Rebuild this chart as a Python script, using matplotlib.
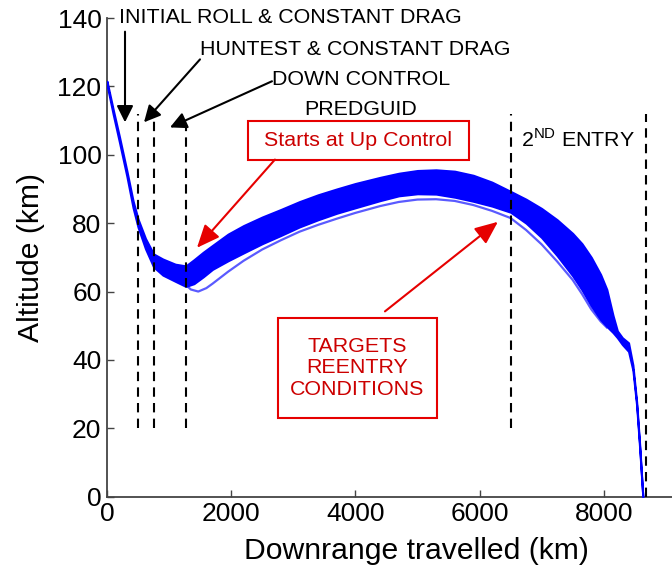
import matplotlib
matplotlib.use('Agg')
import matplotlib.pyplot as plt
from matplotlib.patches import Rectangle

# band of trajectories (upper / lower envelope)
x_band = [0, 100, 200, 320, 420, 500, 620, 750, 900, 1100, 1270, 1400, 1550, 1700,
          1950, 2200, 2500, 2800, 3100, 3400, 3700, 4000, 4400, 4700, 5000, 5300,
          5600, 5900, 6200, 6500, 6750, 7000, 7250, 7500, 7650, 7800, 7950, 8050,
          8150, 8220, 8300, 8400, 8470, 8530, 8580, 8630]
alt_upper = [121.5, 113.2, 105.3, 95.3, 86.5, 81.2, 75.5, 71.0, 69.5, 68.0, 67.5,
             69.3, 71.5, 73.5, 76.8, 79.3, 81.8, 84.0, 86.3, 88.3, 90.0, 91.6, 93.4,
             94.6, 95.4, 95.6, 95.2, 94.0, 92.0, 89.3, 87.0, 84.3, 81.0, 77.0, 74.0,
             70.0, 65.0, 60.6, 53.0, 48.5, 46.5, 45.0, 38.5, 27.8, 15.0, 0.0]
alt_lower = [120.5, 111.8, 103.7, 93.7, 84.5, 78.8, 72.5, 67.2, 64.8, 63.0, 61.5,
             62.3, 64.3, 66.5, 69.0, 71.3, 74.0, 76.4, 78.9, 81.0, 82.9, 84.5, 86.6,
             88.0, 88.6, 88.5, 87.6, 86.4, 85.0, 83.2, 80.0, 75.8, 70.5, 64.6, 60.5,
             55.8, 51.8, 49.8, 48.0, 46.5, 44.5, 42.5, 37.0, 26.8, 14.0, 0.0]

# single trajectory that drops below the band
x_out = [1270, 1350, 1470, 1600, 1700, 1950, 2200, 2500, 2800, 3100, 3400, 3700,
         4000, 4400, 4700, 5000, 5300, 5600, 5900, 6200, 6500, 6750, 7000, 7250,
         7500, 7650, 7800, 7950, 8050]
alt_out = [62.0, 60.6, 60.0, 61.0, 62.3, 65.8, 69.0, 72.3, 75.0, 77.5, 79.5, 81.3,
           83.0, 85.0, 86.2, 86.9, 87.0, 86.5, 85.3, 83.6, 81.5, 78.0, 73.8, 68.8,
           63.4, 59.3, 54.8, 51.3, 49.5]

# phase boundaries (x, bottom, top)
phase_x = [500, 750, 1270, 6500, 8680]
phase_bottom = [20, 20, 20, 20, 0]
phase_top = [112, 111, 109, 112, 112]

xticks = [0, 2000, 4000, 6000, 8000]
yticks = [0, 20, 40, 60, 80, 100, 120, 140]

BLUE = '#0000ff'
RED_TXT = '#cc0000'
RED = '#e60000'


def main():
    plt.rcParams['font.family'] = ['Liberation Sans', 'DejaVu Sans']
    plt.rcParams['mathtext.fontset'] = 'custom'
    plt.rcParams['mathtext.rm'] = 'Liberation Sans'

    fig = plt.figure(figsize=(6.72, 5.67), dpi=100)
    ax = fig.add_axes([107 / 672, 70.3 / 567, 565 / 672, 478.7 / 567])

    ax.fill_between(x_band, alt_lower, alt_upper, color=BLUE, lw=1.5, zorder=3)
    ax.plot(x_out, alt_out, color='#5a5aff', lw=1.6, zorder=2)

    for x, b, t in zip(phase_x, phase_bottom, phase_top):
        ax.plot([x, x], [b, t], color='k', lw=1.5, ls=(0, (4.5, 3)), zorder=4)

    ax.set_xlim(0, 9100)
    ax.set_ylim(0, 140)
    ax.set_xticks(xticks)
    ax.set_yticks(yticks)
    ax.tick_params(direction='in', length=5, width=1, labelsize=19, pad=4,
                   color='#444444')
    for s in ['top', 'right']:
        ax.spines[s].set_visible(False)
    for s in ['left', 'bottom']:
        ax.spines[s].set_color('#444444')
        ax.spines[s].set_linewidth(1.3)
    ax.set_xlabel('Downrange travelled (km)', fontsize=21.7, labelpad=8)
    ax.xaxis.label.set_x(0.547)
    ax.set_ylabel('Altitude (km)', fontsize=21.7, labelpad=9)

    # phase labels and arrows
    fs = 15.4
    ax.text(200, 140.2, 'INITIAL ROLL & CONSTANT DRAG', fontsize=fs, va='center',
            ha='left', clip_on=False)
    ax.text(1500, 130.8, 'HUNTEST & CONSTANT DRAG', fontsize=fs, va='center', ha='left')
    ax.text(4090, 122.0, 'DOWN CONTROL', fontsize=fs, va='center', ha='center')
    ax.text(4090, 113.3, 'PREDGUID', fontsize=fs, va='center', ha='center')
    ax.text(6667, 104.5, r'2$^{\mathrm{ND}}$ ENTRY', fontsize=fs, va='center', ha='left')

    black_arrow = dict(arrowstyle='-|>,head_length=0.5,head_width=0.25', color='k',
                       lw=1.5, mutation_scale=20, shrinkA=0, shrinkB=0)
    ax.annotate('', xy=(290, 109.5), xytext=(290, 136), arrowprops=black_arrow)
    ax.annotate('', xy=(596, 109.5), xytext=(1498, 127.9), arrowprops=black_arrow)
    ax.annotate('', xy=(1014, 108), xytext=(2657, 121.5), arrowprops=black_arrow)

    # red callouts
    ax.add_patch(Rectangle((2270, 98.6), 3557, 11.4, fill=False, ec=RED, lw=1.5,
                           zorder=5))
    ax.text(4048, 104.3, 'Starts at Up Control', fontsize=fs, color=RED_TXT,
            ha='center', va='center', zorder=6)
    ax.add_patch(Rectangle((2753, 23.0), 2559, 29.3, fill=False, ec=RED, lw=1.5,
                           zorder=5))
    ax.text(4032, 37.7, 'TARGETS\nREENTRY\nCONDITIONS', fontsize=fs, color=RED_TXT,
            ha='center', va='center', linespacing=1.15, zorder=6)

    red_arrow = dict(arrowstyle='-|>,head_length=0.7,head_width=0.3', color=RED,
                     lw=1.5, mutation_scale=20, shrinkA=0, shrinkB=0)
    ax.annotate('', xy=(1449, 72.8), xytext=(2705, 98.6), arrowprops=red_arrow)
    ax.annotate('', xy=(6296, 80.4), xytext=(4477, 54.2), arrowprops=red_arrow)

    fig.savefig('out.png', dpi=100)


if __name__ == '__main__':
    main()
